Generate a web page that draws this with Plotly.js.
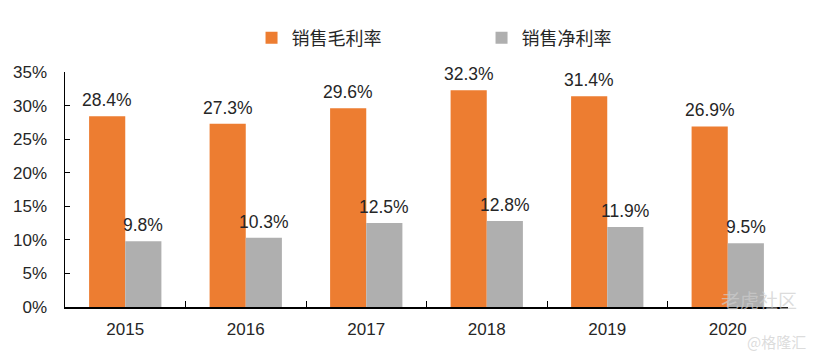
<!DOCTYPE html>
<html>
<head>
<meta charset="utf-8">
<script src="https://cdn.plot.ly/plotly-3.0.1.min.js"></script>
<style>html,body{margin:0;padding:0;background:#fff;}#chart{width:815px;height:354px;}</style>
</head>
<body>
<div id="chart"></div>
<script>
const years = ["2015", "2016", "2017", "2018", "2019", "2020"];
const grossMargin = [28.4, 27.3, 29.6, 32.3, 31.4, 26.9];
const netMargin = [9.8, 10.3, 12.5, 12.8, 11.9, 9.5];
const seriesNames = ["销售毛利率", "销售净利率"];
const yTicks = [0, 5, 10, 15, 20, 25, 30, 35];

const fontFam = "Liberation Sans, Arial, Noto Sans CJK SC, sans-serif";
const fmt = v => v.toFixed(1) + "%";

const traces = [
  {type: "bar", name: seriesNames[0], x: years, y: grossMargin,
   marker: {color: "#ED7D31"}, hoverinfo: "none"},
  {type: "bar", name: seriesNames[1], x: years, y: netMargin,
   marker: {color: "#AFAFAF"}, hoverinfo: "none"}
];

const labelAnn = [];
years.forEach((yr, i) => {
  labelAnn.push({x: i, y: grossMargin[i], xref: "x", yref: "y", text: fmt(grossMargin[i]),
    showarrow: false, xanchor: "center", yanchor: "bottom", xshift: -18, yshift: 4,
    font: {size: 17.5, color: "#262626", family: fontFam}});
  labelAnn.push({x: i, y: netMargin[i], xref: "x", yref: "y", text: fmt(netMargin[i]),
    showarrow: false, xanchor: "center", yanchor: "bottom", xshift: 18, yshift: 4,
    font: {size: 17.5, color: "#262626", family: fontFam}});
});

const layout = {
  width: 815, height: 354,
  margin: {l: 65, r: 27, t: 72, b: 47},
  paper_bgcolor: "#fff", plot_bgcolor: "#fff",
  font: {family: fontFam, color: "#262626", size: 17},
  barmode: "group", bargap: 0.4, bargroupgap: 0,
  showlegend: true,
  legend: {orientation: "h", x: 0.258, xanchor: "left", y: 1.145, yanchor: "middle",
    font: {size: 18, family: "Noto Sans CJK SC, sans-serif", color: "#262626"},
    entrywidth: 185, itemwidth: 30, traceorder: "normal"},
  xaxis: {type: "category", range: [-0.5, 5.5], showline: true, linecolor: "#000", linewidth: 1.5,
    ticks: "inside", tickson: "boundaries", ticklen: 6, tickcolor: "#000", ticklabelstandoff: 6,
    tickfont: {size: 17}, showgrid: false, zeroline: false},
  yaxis: {range: [0, 35], tickvals: yTicks, ticktext: yTicks.map(v => v + "%"),
    showline: true, linecolor: "#000", linewidth: 1.5, ticks: "inside", ticklen: 5,
    ticklabelstandoff: 13,
    tickcolor: "#000", tickfont: {size: 17}, showgrid: false, zeroline: false},
  annotations: labelAnn.concat([
    {text: "老虎社区", xref: "paper", yref: "paper", x: 0.905, y: 0.03, xanchor: "left", yanchor: "middle",
     showarrow: false, font: {size: 19, color: "rgba(205,205,205,0.7)", family: "Noto Sans CJK SC"}},
    {text: "@格隆汇", xref: "paper", yref: "paper", x: 0.94, y: -0.145, xanchor: "left", yanchor: "middle",
     showarrow: false, font: {size: 15, color: "rgba(205,205,205,0.7)", family: "Noto Sans CJK SC"}}
  ])
};

Plotly.newPlot("chart", traces, layout, {displayModeBar: false, staticPlot: true});
</script>
</body>
</html>
